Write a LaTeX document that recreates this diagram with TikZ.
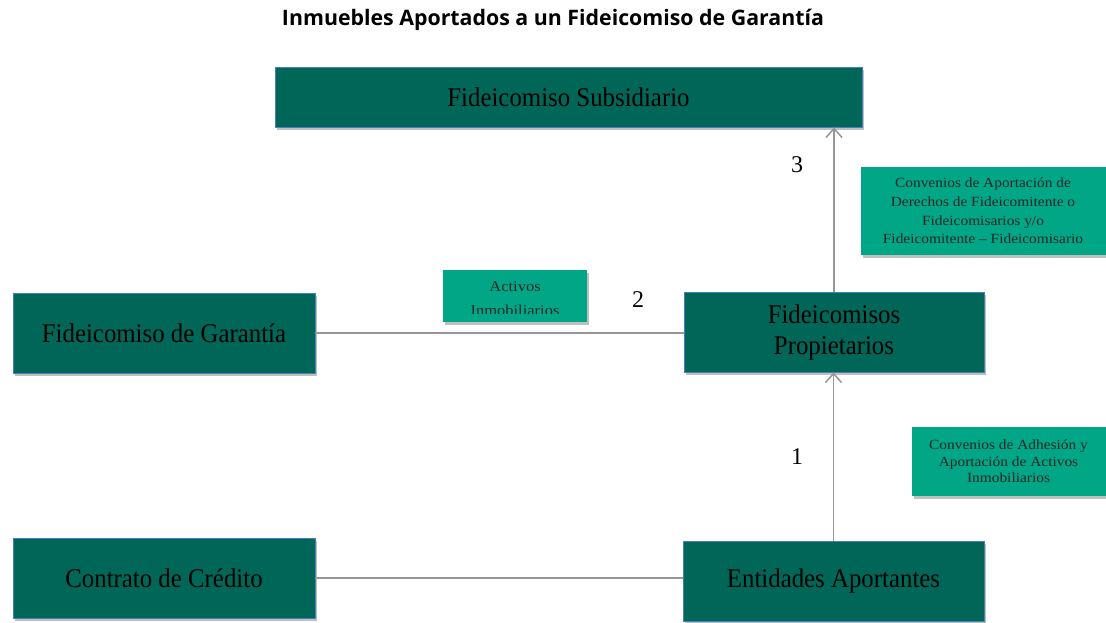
\documentclass[tikz,border=0pt]{standalone}
\usepackage{fontspec}
\setmainfont{Liberation Serif}
\newfontfamily\titlefont{Open Sans}
\newfontfamily\bigserif[FakeStretch=0.92]{Liberation Serif}
\newfontfamily\smallserif[FakeStretch=1.1]{Liberation Serif}
\usetikzlibrary{arrows.meta,shadows}
\definecolor{darkteal}{RGB}{0,102,88}
\definecolor{lightteal}{RGB}{0,166,134}
\definecolor{boxborder}{RGB}{74,126,187}
\definecolor{linegray}{RGB}{150,150,150}
\tikzset{
  bigbox/.style={draw=boxborder, line width=0.8pt, fill=darkteal, text=black,
    inner sep=0pt, align=center, font=\bigserif\fontsize{27}{31}\selectfont,
    drop shadow={shadow xshift=2pt, shadow yshift=-3pt, opacity=0.25, fill=black}},
  notebox/.style={fill=lightteal, draw=none, inner sep=0pt, align=center, text=black!85,
    drop shadow={shadow xshift=2pt, shadow yshift=-3pt, opacity=0.25, fill=black}},
  conn/.style={draw=linegray, line width=1.5pt},
  arr/.style={conn, -{Straight Barb[length=9pt,width=16pt,line width=1.5pt]}},
  numlabel/.style={font=\fontsize{24}{28}\selectfont, text=black}
}
\begin{document}
\begin{tikzpicture}[x=1pt,y=-1pt]
\useasboundingbox (0,0) rectangle (1106,622);
\fill[white] (0,0) rectangle (1106,622);

\node (title) at (553,20) {\resizebox{542pt}{!}{\titlefont\bfseries Inmuebles Aportados a un Fideicomiso de Garantía}};

\node[bigbox, minimum width=587pt, minimum height=60pt] (sub) at (568.5,97) {Fideicomiso Subsidiario};
\node[bigbox, minimum width=302pt, minimum height=80pt] (gar) at (164,333) {Fideicomiso de Garantía};
\node[bigbox, minimum width=300pt, minimum height=80pt] (prop) at (834,332) {Fideicomisos\\Propietarios};
\node[bigbox, minimum width=302pt, minimum height=80pt] (con) at (164,578) {Contrato de Crédito};
\node[bigbox, minimum width=301pt, minimum height=80pt] (ent) at (833.5,581) {Entidades Aportantes};

\node[notebox, minimum width=144pt, minimum height=52pt] (act) at (515,296) {};
\begin{scope}
\clip (act.north west) rectangle ([yshift=9pt]act.south east);
\node[align=center, text=black!85, font=\smallserif\fontsize{15}{24}\selectfont] (acttext) at (515,299) {Activos\\Inmobiliarios};
\end{scope}

\node[notebox, minimum width=245pt, minimum height=88pt, font=\smallserif\fontsize{14}{18.7}\selectfont] (conv1) at (983,211)
  {Convenios de Aportación de\\Derechos de Fideicomitente o\\Fideicomisarios y/o\\Fideicomitente – Fideicomisario};
\node[notebox, minimum width=194pt, minimum height=69pt, font=\smallserif\fontsize{14}{16.5}\selectfont] (conv2) at (1008.5,461.5)
  {Convenios de Adhesión y\\Aportación de Activos\\Inmobiliarios};

\draw[conn] (gar.east) -- (gar.east -| prop.west);
\draw[conn] (con.east) -- (con.east -| ent.west);
\draw[arr] (ent.north) -- (ent.north |- prop.south);
\draw[arr] (prop.north) -- (prop.north |- sub.south);

\node[numlabel] (n1) at (797,457) {1};
\node[numlabel] (n2) at (638,300) {2};
\node[numlabel] (n3) at (797,165) {3};
\end{tikzpicture}
\end{document}
